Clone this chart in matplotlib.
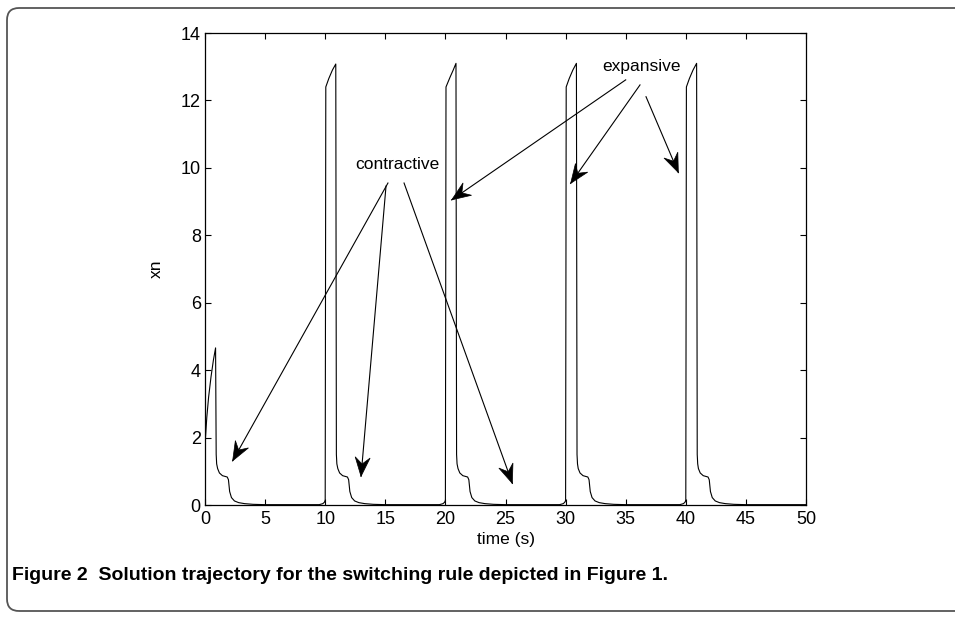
import numpy as np
import matplotlib.pyplot as plt
from matplotlib.patches import FancyBboxPatch, Polygon
from matplotlib.transforms import IdentityTransform

# trajectory samples, one row per switching period
t0 = [0.0, 0.04, 0.15, 0.3, 0.5, 0.7, 0.88, 0.93, 0.97, 1.05, 1.2, 1.45, 1.85, 1.95,
      2.05, 2.2, 2.45, 2.8, 3.3, 4.0, 5.0, 9.5, 9.8, 9.93, 9.98]
x0 = [1.0, 2.0, 2.6, 3.2, 3.8, 4.3, 4.66, 1.5, 1.22, 1.08, 0.95, 0.87, 0.83, 0.75,
      0.4, 0.22, 0.12, 0.07, 0.04, 0.02, 0.01, 0.01, 0.04, 0.08, 0.12]
t1 = [10.0, 10.05, 10.3, 10.6, 10.88, 10.93, 10.97, 11.05, 11.2, 11.45, 11.85, 11.95,
      12.05, 12.2, 12.45, 12.8, 13.3, 14.0, 15.0, 19.5, 19.8, 19.93, 19.98]
x1 = [0.12, 12.4, 12.65, 12.9, 13.08, 1.5, 1.22, 1.08, 0.95, 0.87, 0.83, 0.75,
      0.4, 0.22, 0.12, 0.07, 0.04, 0.02, 0.01, 0.01, 0.04, 0.08, 0.12]
t2 = [20.0, 20.05, 20.4, 20.65, 20.88, 20.93, 20.97, 21.05, 21.2, 21.45, 21.85, 21.95,
      22.05, 22.2, 22.45, 22.8, 23.3, 24.0, 25.0, 29.5, 29.8, 29.93, 29.98]
x2 = [0.12, 12.4, 12.7, 12.9, 13.1, 1.5, 1.22, 1.08, 0.95, 0.87, 0.83, 0.75,
      0.4, 0.22, 0.12, 0.07, 0.04, 0.02, 0.01, 0.01, 0.04, 0.08, 0.12]
t3 = [30.0, 30.05, 30.3, 30.6, 30.9, 30.95, 30.99, 31.05, 31.2, 31.45, 31.85, 31.95,
      32.05, 32.2, 32.45, 32.8, 33.3, 34.0, 35.0, 39.5, 39.8, 39.93, 39.98]
x3 = [0.12, 12.4, 12.65, 12.9, 13.1, 1.5, 1.22, 1.08, 0.95, 0.87, 0.83, 0.75,
      0.4, 0.22, 0.12, 0.07, 0.04, 0.02, 0.01, 0.01, 0.04, 0.08, 0.12]
t4 = [40.0, 40.05, 40.3, 40.6, 40.9, 40.95, 40.99, 41.05, 41.2, 41.45, 41.85, 41.95,
      42.05, 42.2, 42.45, 42.8, 43.3, 44.0, 45.0, 50.0]
x4 = [0.12, 12.4, 12.65, 12.9, 13.1, 1.5, 1.22, 1.08, 0.95, 0.87, 0.83, 0.75,
      0.4, 0.22, 0.12, 0.07, 0.04, 0.02, 0.01, 0.01]

x_ticks = np.arange(0, 51, 5)
y_ticks = np.arange(0, 15, 2)

# annotation text positions and arrow (start, tip) pairs in data units
contractive_pos = (15.97, 10.09)
contractive_arrows = [((15.22, 9.55), (2.30, 1.31)),
                      ((15.06, 9.46), (12.98, 0.85)),
                      ((16.56, 9.55), (25.57, 0.64))]
expansive_pos = (36.33, 13.0)
expansive_arrows = [((35.0, 12.61), (20.52, 9.05)),
                    ((36.19, 12.46), (30.42, 9.54)),
                    ((36.69, 12.11), (39.38, 9.86))]

caption = "Figure 2  Solution trajectory for the switching rule depicted in Figure 1."

FONT = 'Liberation Sans'

fig = plt.figure(figsize=(9.55, 6.17), dpi=100)
ax = fig.add_axes([205 / 955, 1 - 505 / 617, 601 / 955, 472 / 617])

t = np.concatenate([t0, t1, t2, t3, t4])
x = np.concatenate([x0, x1, x2, x3, x4])
ax.plot(t, x, color='black', lw=0.8)

ax.set_xlim(0, 50)
ax.set_ylim(0, 14)
ax.set_xticks(x_ticks)
ax.set_yticks(y_ticks)
ax.tick_params(direction='in', length=4, width=0.8, top=True, right=True, pad=3)
ax.tick_params(axis='x', pad=4)
for lab in ax.get_xticklabels() + ax.get_yticklabels():
    lab.set_fontfamily(FONT)
    lab.set_fontsize(13)
for sp in ax.spines.values():
    sp.set_linewidth(0.9)

ax.set_xlabel('time (s)', family=FONT, fontsize=12.5, labelpad=3)
ax.set_ylabel('xn', family=FONT, fontsize=12.5, labelpad=12)

ax.text(*contractive_pos, 'contractive', family=FONT, fontsize=12.5,
        ha='center', va='center')
ax.text(*expansive_pos, 'expansive', family=FONT, fontsize=12.5,
        ha='center', va='center')


def draw_arrow(start, tip, length=19, width=7.5):
    # thin shaft plus a filled, notched head drawn in pixel space
    ax.plot([start[0], tip[0]], [start[1], tip[1]], color='black', lw=0.8)
    p0 = ax.transData.transform(start)
    p1 = ax.transData.transform(tip)
    u = (p1 - p0) / np.hypot(*(p1 - p0))
    n = np.array([-u[1], u[0]])
    head = [p1,
            p1 - length * u + width * n,
            p1 - 0.65 * length * u,
            p1 - length * u - width * n]
    fig.patches.append(Polygon(head, closed=True, facecolor='black', edgecolor='black',
                               lw=0.5, transform=IdentityTransform(), figure=fig))


for s, e in contractive_arrows + expansive_arrows:
    draw_arrow(s, e)

# rounded caption box
frame = FancyBboxPatch((7, 6), 1000, 603, boxstyle='round,pad=0,rounding_size=12',
                       facecolor='none', edgecolor='#555555', lw=1.3,
                       transform=IdentityTransform(), figure=fig)
fig.patches.append(frame)

fig.text(12 / 955, 1 - 576 / 617, caption, family=FONT,
         weight='bold', fontsize=14, ha='left', va='center')

fig.savefig('out.png', dpi=100)
